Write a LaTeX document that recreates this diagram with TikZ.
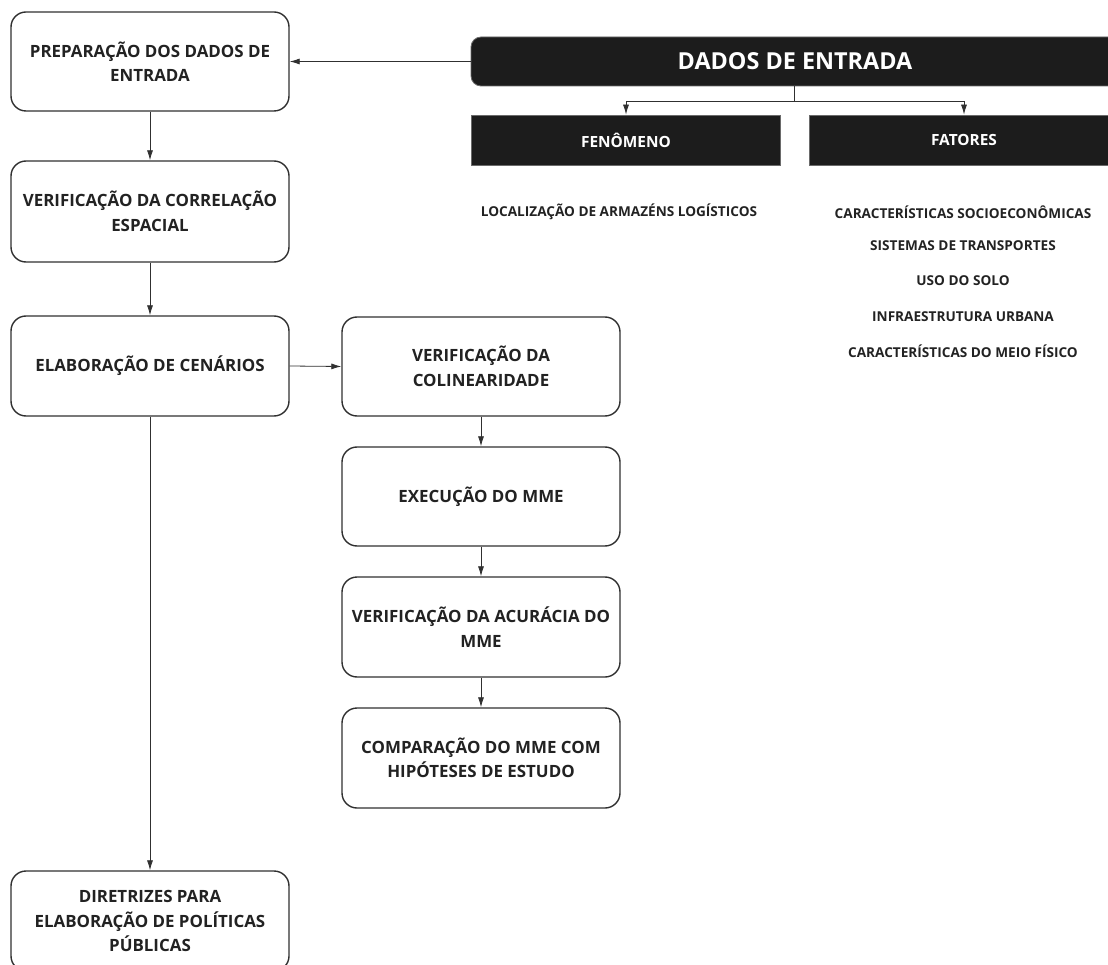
\documentclass[tikz,border=0pt]{standalone}
\usepackage{fontspec}
\setmainfont{Open Sans}
\usetikzlibrary{arrows.meta}
\definecolor{boxline}{HTML}{303030}
\definecolor{darkfill}{HTML}{1C1C1C}
\definecolor{darkedge}{HTML}{6A6A6A}
\definecolor{txt}{HTML}{222222}
\tikzset{
  stepbox/.style={draw=boxline, line width=1.4pt, rounded corners=15pt, fill=white,
    minimum width=278pt, minimum height=99pt, align=center,
    font=\bfseries\fontsize{16.9}{24.5}\selectfont, text=txt, inner sep=0pt},
  darkbox/.style={fill=darkfill, draw=darkedge, line width=0.8pt, inner sep=0pt},
  whitetxt/.style={text=white, inner sep=0pt},
  lbl/.style={font=\bfseries\fontsize{13.6}{16}\selectfont, text=txt, inner sep=0pt},
  conn/.style={draw=boxline, line width=0.8pt, -{Latex[length=10pt,width=6pt]}},
  plain/.style={draw=boxline, line width=0.8pt}
}
\begin{document}
\begin{tikzpicture}[x=1pt,y=-1pt]
\useasboundingbox (0,0) rectangle (1108,965);
\clip (0,0) rectangle (1108,965);
% left column
\node[stepbox] (prep) at (150,61.5) {PREPARAÇÃO DOS DADOS DE\\ENTRADA};
\node[stepbox, minimum height=101pt] (corr) at (150,211.5) {VERIFICAÇÃO DA CORRELAÇÃO\\ESPACIAL};
\node[stepbox, minimum height=100pt] (cen) at (150,366) {ELABORAÇÃO DE CENÁRIOS};
\node[stepbox, minimum height=100pt] (dir) at (150,921) {DIRETRIZES PARA\\ELABORAÇÃO DE POLÍTICAS\\PÚBLICAS};
% middle column
\node[stepbox] (col) at (481,366.5) {VERIFICAÇÃO DA\\COLINEARIDADE};
\node[stepbox] (exe) at (481,496.5) {EXECUÇÃO DO MME};
\node[stepbox, minimum height=100pt] (acu) at (481,627) {VERIFICAÇÃO DA ACURÁCIA DO\\MME};
\node[stepbox, minimum height=100pt] (comp) at (481,758) {COMPARAÇÃO DO MME COM\\HIPÓTESES DE ESTUDO};
% input data
\filldraw[fill=darkfill, draw=darkedge, line width=0.8pt, rounded corners=10pt] (471,37) rectangle (1140,86);
\node[inner sep=0pt, minimum width=669pt, minimum height=49pt] (dados) at (805.5,61.5) {};
\node[whitetxt, font=\bfseries\fontsize{23.4}{26}\selectfont] (dadostxt) at (795,61) {DADOS DE ENTRADA};
\node[darkbox, minimum width=309pt, minimum height=50pt] (fen) at (625.5,140) {};
\node[whitetxt, font=\bfseries\fontsize{15.4}{18}\selectfont] (fentxt) at (626,140) {FENÔMENO};
\node[darkbox, minimum width=320pt, minimum height=50pt, anchor=west] (fat) at (809,140) {};
\node[whitetxt, font=\bfseries\fontsize{15.4}{18}\selectfont] (fattxt) at (964,140) {FATORES};
% labels
\node[lbl] (loc) at (619,212) {LOCALIZAÇÃO DE ARMAZÉNS LOGÍSTICOS};
\node[lbl] (f1) at (963,212) {CARACTERÍSTICAS SOCIOECONÔMICAS};
\node[lbl] (f2) at (963,246) {SISTEMAS DE TRANSPORTES};
\node[lbl] (f3) at (963,281) {USO DO SOLO};
\node[lbl] (f4) at (963,317) {INFRAESTRUTURA URBANA};
\node[lbl] (f5) at (963,351) {CARACTERÍSTICAS DO MEIO FÍSICO};
% connectors
\coordinate (bj) at (794,101);
\draw[plain] (dados.south -| bj) -- (bj);
\draw[conn] (bj) -| (fen.north -| 626,0);
\draw[conn] (bj) -| (fat.north -| 964,0);
\draw[conn] (dados.west) -- (prep.east);
\draw[conn] (prep.south) -- (corr.north);
\draw[conn] (corr.south) -- (cen.north);
\draw[conn] (cen.east) -- (col.west);
\draw[conn] (col.south) -- (exe.north);
\draw[conn] (exe.south) -- (acu.north);
\draw[conn] (acu.south) -- (comp.north);
\draw[conn] (cen.south) -- (dir.north);
\end{tikzpicture}
\end{document}
